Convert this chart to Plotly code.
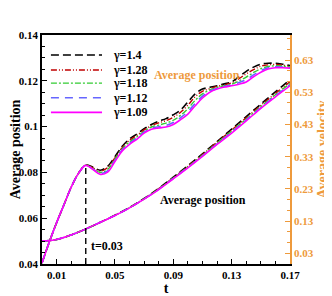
import plotly.graph_objects as go

# ---------------- data ----------------
t_vel = [0.000, 0.005, 0.010, 0.015, 0.020, 0.025, 0.030, 0.035, 0.040, 0.045,
         0.050, 0.055, 0.060, 0.065, 0.070, 0.075, 0.080, 0.085, 0.090, 0.095,
         0.100, 0.105, 0.110, 0.115, 0.120, 0.125, 0.130, 0.135, 0.140, 0.145,
         0.150, 0.155, 0.160, 0.165, 0.170]

vel_140 = [0.000, 0.065, 0.125, 0.180, 0.235, 0.278, 0.304, 0.297, 0.288, 0.300,
           0.330, 0.362, 0.385, 0.400, 0.417, 0.430, 0.440, 0.448, 0.460, 0.475,
           0.500, 0.525, 0.540, 0.545, 0.550, 0.556, 0.562, 0.578, 0.595, 0.608,
           0.617, 0.620, 0.620, 0.617, 0.613]
vel_128 = [0.000, 0.065, 0.125, 0.180, 0.235, 0.278, 0.304, 0.295, 0.285, 0.296,
           0.326, 0.358, 0.381, 0.396, 0.413, 0.426, 0.435, 0.442, 0.452, 0.468,
           0.490, 0.516, 0.533, 0.541, 0.548, 0.553, 0.559, 0.572, 0.587, 0.600,
           0.611, 0.615, 0.616, 0.614, 0.611]
vel_118 = [0.000, 0.065, 0.125, 0.180, 0.235, 0.278, 0.303, 0.293, 0.281, 0.290,
           0.322, 0.354, 0.376, 0.391, 0.409, 0.422, 0.428, 0.434, 0.443, 0.458,
           0.479, 0.505, 0.525, 0.537, 0.545, 0.550, 0.555, 0.565, 0.577, 0.591,
           0.603, 0.610, 0.612, 0.611, 0.609]
vel_112 = [0.000, 0.065, 0.125, 0.180, 0.235, 0.278, 0.303, 0.291, 0.278, 0.286,
           0.318, 0.351, 0.371, 0.387, 0.406, 0.418, 0.423, 0.427, 0.436, 0.451,
           0.470, 0.495, 0.518, 0.533, 0.542, 0.548, 0.552, 0.560, 0.569, 0.584,
           0.597, 0.606, 0.609, 0.608, 0.607]
vel_109 = [0.000, 0.065, 0.125, 0.180, 0.235, 0.278, 0.303, 0.290, 0.275, 0.282,
           0.315, 0.348, 0.368, 0.384, 0.403, 0.415, 0.419, 0.422, 0.430, 0.445,
           0.462, 0.488, 0.512, 0.530, 0.540, 0.546, 0.550, 0.555, 0.562, 0.578,
           0.592, 0.602, 0.606, 0.606, 0.605]

t_pos = [0.00, 0.01, 0.02, 0.03, 0.04, 0.05, 0.06, 0.07, 0.08, 0.09,
         0.10, 0.11, 0.12, 0.13, 0.14, 0.15, 0.16, 0.17]
pos_140 = [0.0500, 0.0507, 0.0527, 0.0553, 0.0582, 0.0613, 0.0647, 0.0686, 0.0730, 0.0779,
           0.0829, 0.0881, 0.0935, 0.0989, 0.1044, 0.1098, 0.1152, 0.1204]
pos_128 = [0.0500, 0.0507, 0.0527, 0.0553, 0.0582, 0.0613, 0.0646, 0.0685, 0.0729, 0.0777,
           0.0827, 0.0878, 0.0932, 0.0985, 0.1039, 0.1093, 0.1145, 0.1196]
pos_118 = [0.0500, 0.0507, 0.0527, 0.0553, 0.0582, 0.0612, 0.0646, 0.0684, 0.0727, 0.0775,
           0.0824, 0.0875, 0.0928, 0.0980, 0.1033, 0.1087, 0.1139, 0.1188]
pos_112 = [0.0500, 0.0507, 0.0527, 0.0553, 0.0582, 0.0612, 0.0645, 0.0684, 0.0726, 0.0774,
           0.0822, 0.0872, 0.0925, 0.0976, 0.1029, 0.1083, 0.1134, 0.1182]
pos_109 = [0.0500, 0.0507, 0.0527, 0.0553, 0.0582, 0.0612, 0.0645, 0.0683, 0.0725, 0.0772,
           0.0820, 0.0870, 0.0922, 0.0972, 0.1025, 0.1080, 0.1130, 0.1178]

gamma_labels = ["γ=1.4", "γ=1.28", "γ=1.18", "γ=1.12", "γ=1.09"]
x_ticks = [0.01, 0.05, 0.09, 0.13, 0.17]
x_tick_text = ["0.01", "0.05", "0.09", "0.13", "0.17"]
y_ticks = [0.04, 0.06, 0.08, 0.1, 0.12, 0.14]
y_tick_text = ["0.04", "0.06", "0.08", "0.1", "0.12", "0.14"]
y2_ticks = [0.03, 0.13, 0.23, 0.33, 0.43, 0.53, 0.63]
y2_tick_text = ["0.03", "0.13", "0.23", "0.33", "0.43", "0.53", "0.63"]
marker_t = 0.03
marker_top = 0.0828

# ---------------- styles ----------------
ORANGE = "#EE9A3C"
FONT = "Liberation Serif"
styles = [
    dict(color="black", dash="8px,4px", width=1.6),
    dict(color="#C00000", dash="6px,2px,1px,2px,1px,2px", width=1.4),
    dict(color="#33CC33", dash="6px,2px,2px,2px", width=1.4),
    dict(color="#6666FF", dash="8px,6px", width=1.6),
    dict(color="#FF00FF", dash="solid", width=1.6),
]

vels = [vel_140, vel_128, vel_118, vel_112, vel_109]
poss = [pos_140, pos_128, pos_118, pos_112, pos_109]


def b(s):
    return "<b>%s</b>" % s


fig = go.Figure()
for i in range(5):
    fig.add_trace(go.Scatter(x=t_vel, y=vels[i], mode="lines", line=dict(shape="spline", **styles[i]),
                             name=gamma_labels[i], yaxis="y2", showlegend=False))
for i in range(5):
    fig.add_trace(go.Scatter(x=t_pos, y=poss[i], mode="lines", line=dict(shape="spline", **styles[i]),
                             name=gamma_labels[i], showlegend=False))

# vertical marker line at t=0.03
fig.add_trace(go.Scatter(x=[marker_t, marker_t], y=[0.04, marker_top], mode="lines",
                         line=dict(color="black", dash="6px,4px", width=1.4), showlegend=False))

# custom legend (line samples + labels) in paper coordinates
leg_y = [0.9125, 0.847, 0.790, 0.726, 0.662]
shapes = []
annotations = []
for i in range(5):
    shapes.append(dict(type="line", xref="paper", yref="paper", x0=0.036, x1=0.242,
                       y0=leg_y[i], y1=leg_y[i], line=styles[i]))
    annotations.append(dict(xref="paper", yref="paper", x=0.28, y=leg_y[i], xanchor="left",
                            yanchor="middle", showarrow=False, text=b(gamma_labels[i]),
                            font=dict(family=FONT, size=12, color="black")))

annotations += [
    dict(x=0.0322, y=0.0478, xref="x", yref="y", text=b("t=0.03"), showarrow=False, xanchor="left",
         font=dict(family=FONT, size=12, color="black")),
    dict(x=0.1372, y=0.1224, xref="x", yref="y", text=b("Average position"), showarrow=False,
         xanchor="right", font=dict(family=FONT, size=12, color=ORANGE)),
    dict(x=0.1107, y=0.0679, xref="x", yref="y", text=b("Average position"), showarrow=False,
         font=dict(family=FONT, size=12, color="black")),
]

# the page body adds an 8px offset, so the figure is drawn 8px smaller
fig.update_layout(
    width=324, height=288,
    margin=dict(l=34, r=42, t=27, b=32, autoexpand=False),
    paper_bgcolor="white", plot_bgcolor="white",
    font=dict(family=FONT, size=11, color="black"),
    showlegend=False,
    shapes=shapes,
    annotations=annotations,
    xaxis=dict(range=[0, 0.17], tickvals=x_ticks, ticktext=[b(s) for s in x_tick_text],
               ticks="inside", ticklen=5, tickcolor="black", automargin=False,
               minor=dict(ticks="inside", dtick=0.01, tick0=0.01, ticklen=3, tickcolor="black"),
               showline=True, linecolor="black", linewidth=1.5, mirror=True,
               showgrid=False, zeroline=False,
               tickfont=dict(family=FONT, size=11),
               title=dict(text=b("t"), font=dict(family=FONT, size=14), standoff=2)),
    yaxis=dict(range=[0.04, 0.14], tickvals=y_ticks, ticktext=[b(s) for s in y_tick_text],
               ticks="inside", ticklen=5, tickcolor="black", automargin=False,
               minor=dict(ticks="inside", dtick=0.005, tick0=0.04, ticklen=3, tickcolor="black"),
               showline=True, linecolor="black", linewidth=1.5,
               showgrid=False, zeroline=False,
               tickfont=dict(family=FONT, size=11),
               title=dict(text=b("Average position"), font=dict(family=FONT, size=14), standoff=4)),
    yaxis2=dict(range=[-0.0033, 0.7077], overlaying="y", side="right", tickvals=y2_ticks,
                ticktext=[b(s) for s in y2_tick_text],
                ticks="inside", ticklen=5, tickcolor=ORANGE, automargin=False,
                minor=dict(ticks="inside", dtick=0.1 / 3, tick0=0.03, ticklen=3, tickcolor=ORANGE),
                showline=True, linecolor=ORANGE, linewidth=1.5,
                showgrid=False, zeroline=False,
                tickfont=dict(family=FONT, size=11, color=ORANGE),
                title=dict(text=b("Average velocity"), font=dict(family=FONT, size=14, color=ORANGE),
                           standoff=4)),
)

fig.write_html("out.html")
